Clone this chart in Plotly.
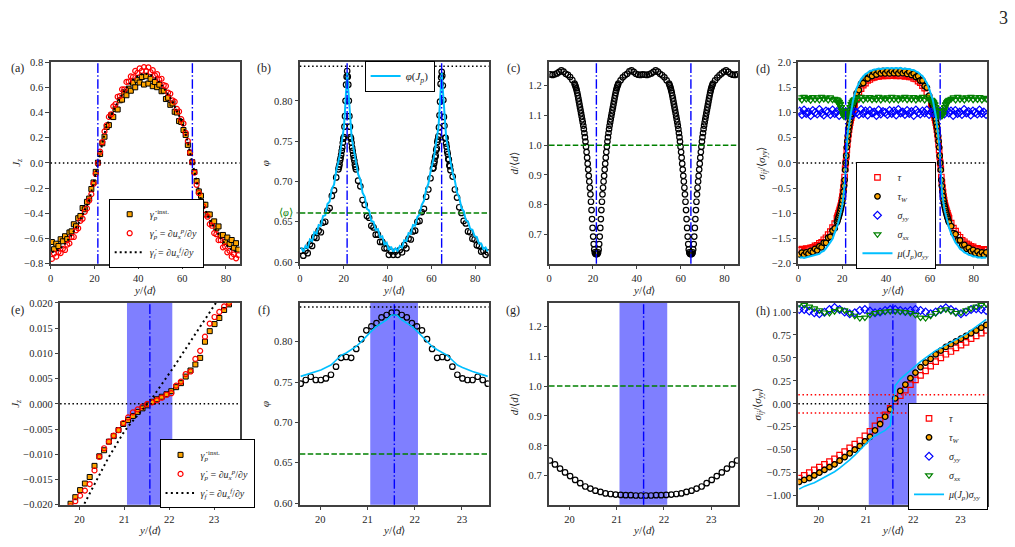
import plotly.graph_objects as go

FONT = "Liberation Serif"
W, H = 1015, 547
AXC = "#404040"
TXT = "#262626"

# ------------------------------------------------------------------ data
# y/<d> positions, coarse (panel a, sigma_yy in panel d)
y_coarse = [0.6, 1.6, 2.6, 3.6, 4.6, 5.6, 6.6, 7.6, 8.6, 9.6, 10.6, 11.6, 12.6, 13.6, 14.6, 15.6, 16.6, 17.6, 18.6, 19.6, 20.6, 21.6,
            22.6, 23.6, 24.6, 25.6, 26.6, 27.6, 28.6, 29.6, 30.6, 31.6, 32.6, 33.6, 34.6, 35.6, 36.6, 37.6, 38.6, 39.6, 40.6, 41.6, 42.6,
            43.6, 44.6, 45.6, 46.6, 47.6, 48.6, 49.6, 50.6, 51.6, 52.6, 53.6, 54.6, 55.6, 56.6, 57.6, 58.6, 59.6, 60.6, 61.6, 62.6, 63.6, 64.6,
            65.6, 66.6, 67.6, 68.6, 69.6, 70.6, 71.6, 72.6, 73.6, 74.6, 75.6, 76.6, 77.6, 78.6, 79.6, 80.6, 81.6, 82.6, 83.6, 84.6, 85.6]

# y/<d> positions, refined around the two shear bands (panels b, d)
y_fine = [0.6, 1.6, 2.6, 3.6, 4.6, 5.6, 6.6, 7.6, 8.6, 9.6, 10.6, 11.6, 12.6, 13.6, 14.6, 15.6, 16.6,
          17.6, 17.85, 18.1, 18.35, 18.6, 18.85, 19.1, 19.35, 19.6, 19.85, 20.1, 20.35, 20.6, 20.85, 21.1, 21.35, 21.6,
          21.85, 22.1, 22.35, 22.6, 22.85, 23.1, 23.35, 23.6, 23.85, 24.1, 24.35, 24.6, 24.85, 25.1, 25.35, 25.6,
          26.6, 27.6, 28.6, 29.6, 30.6, 31.6, 32.6, 33.6, 34.6, 35.6, 36.6, 37.6, 38.6, 39.6, 40.6, 41.6, 42.6,
          43.6, 44.6, 45.6, 46.6, 47.6, 48.6, 49.6, 50.6, 51.6, 52.6, 53.6, 54.6, 55.6, 56.6, 57.6, 58.6, 59.6,
          60.7, 60.95, 61.2, 61.45, 61.7, 61.95, 62.2, 62.45, 62.7, 62.95, 63.2, 63.45, 63.7, 63.95, 64.2, 64.45, 64.7,
          64.95, 65.2, 65.45, 65.7, 65.95, 66.2, 66.45, 66.7, 66.95, 67.2, 67.45, 67.7, 67.95, 68.2, 68.45, 68.7,
          69.7, 70.7, 71.7, 72.7, 73.7, 74.7, 75.7, 76.7, 77.7, 78.7, 79.7, 80.7, 81.7, 82.7, 83.7, 84.7, 85.7]

# y/<d> positions for panel c (refined over the whole size gradient)
y_fine_c = [0.6, 1.6, 2.6, 3.6, 4.6, 5.6, 6.6, 7.6, 8.6, 9.6, 10.6,
            11.6, 11.85, 12.1, 12.35, 12.6, 12.85, 13.1, 13.35, 13.6, 13.85, 14.1, 14.35, 14.6, 14.85, 15.1, 15.35,
            15.6, 15.85, 16.1, 16.35, 16.6, 16.85, 17.1, 17.35, 17.6, 17.85, 18.1, 18.35, 18.6, 18.85, 19.1, 19.35,
            19.6, 19.85, 20.1, 20.35, 20.6, 20.85, 21.1, 21.35, 21.6,
            21.85, 22.1, 22.35, 22.6, 22.85, 23.1, 23.35, 23.6, 23.85, 24.1, 24.35, 24.6, 24.85, 25.1, 25.35, 25.6,
            25.85, 26.1, 26.35, 26.6, 26.85, 27.1, 27.35, 27.6, 27.85, 28.1, 28.35, 28.6, 28.85, 29.1, 29.35, 29.6,
            29.85, 30.1, 30.35, 30.6, 30.85, 31.1, 31.35, 31.6,
            32.6, 33.6, 34.6, 35.6, 36.6, 37.6, 38.6, 39.6, 40.6, 41.6, 42.6,
            43.6, 44.6, 45.6, 46.6, 47.6, 48.6, 49.6, 50.6, 51.6, 52.6, 53.6,
            54.7, 54.95, 55.2, 55.45, 55.7, 55.95, 56.2, 56.45, 56.7, 56.95, 57.2, 57.45, 57.7, 57.95, 58.2, 58.45,
            58.7, 58.95, 59.2, 59.45, 59.7, 59.95, 60.2, 60.45, 60.7, 60.95, 61.2, 61.45, 61.7, 61.95, 62.2, 62.45,
            62.7, 62.95, 63.2, 63.45, 63.7, 63.95, 64.2, 64.45, 64.7,
            64.95, 65.2, 65.45, 65.7, 65.95, 66.2, 66.45, 66.7, 66.95, 67.2, 67.45, 67.7, 67.95, 68.2, 68.45, 68.7,
            68.95, 69.2, 69.45, 69.7, 69.95, 70.2, 70.45, 70.7, 70.95, 71.2, 71.45, 71.7, 71.95, 72.2, 72.45, 72.7,
            72.95, 73.2, 73.45, 73.7, 73.95, 74.2, 74.45, 74.7,
            75.7, 76.7, 77.7, 78.7, 79.7, 80.7, 81.7, 82.7, 83.7, 84.7, 85.7]

# y/<d> positions in the zoomed bottom row
y_zoom = [19.588, 19.695, 19.802, 19.908, 20.015, 20.122, 20.229, 20.336, 20.443, 20.550, 20.657, 20.764, 20.871,
          20.978, 21.085, 21.192, 21.299, 21.406, 21.514, 21.620, 21.727, 21.834, 21.941, 22.048, 22.155, 22.262,
          22.369, 22.476, 22.584, 22.691, 22.798, 22.904, 23.011, 23.118, 23.225, 23.333, 23.440, 23.546]

# (a) shear rates J_z
Jz_inst_a = [-0.628, -0.685, -0.641, -0.660, -0.606, -0.622, -0.582, -0.605, -0.552, -0.543, -0.487, -0.503, -0.439, -0.421,
             -0.358, -0.368, -0.309, -0.283, -0.207, -0.155, -0.071, 0.002,
             0.071, 0.156, 0.208, 0.285, 0.300, 0.377, 0.364, 0.427, 0.424, 0.497, 0.502, 0.561, 0.537, 0.590, 0.573, 0.637,
             0.600, 0.657, 0.638, 0.682, 0.622,
             0.688, 0.630, 0.668, 0.609, 0.642, 0.601, 0.621, 0.569, 0.573, 0.507, 0.517, 0.461, 0.472, 0.406, 0.400, 0.332,
             0.325, 0.261, 0.222, 0.143, 0.080, 0.006,
             -0.072, -0.144, -0.226, -0.261, -0.333, -0.332, -0.409, -0.409, -0.478, -0.464, -0.520, -0.504, -0.576, -0.572,
             -0.627, -0.592, -0.645, -0.612, -0.674, -0.637, -0.688]
Jz_p_a = [-0.762, -0.719, -0.744, -0.708, -0.716, -0.682, -0.691, -0.648, -0.639, -0.589, -0.588, -0.535, -0.519, -0.460,
          -0.443, -0.388, -0.361, -0.299, -0.248, -0.165, -0.088, -0.003,
          0.089, 0.166, 0.250, 0.299, 0.365, 0.386, 0.449, 0.466, 0.525, 0.531, 0.584, 0.583, 0.643, 0.646, 0.687, 0.682,
          0.730, 0.714, 0.750, 0.731, 0.760,
          0.730, 0.759, 0.720, 0.736, 0.694, 0.704, 0.661, 0.668, 0.617, 0.611, 0.558, 0.549, 0.497, 0.486, 0.429, 0.408,
          0.347, 0.313, 0.239, 0.174, 0.083, 0.006,
          -0.077, -0.174, -0.239, -0.315, -0.345, -0.410, -0.427, -0.486, -0.499, -0.557, -0.566, -0.613, -0.613, -0.670,
          -0.663, -0.710, -0.698, -0.744, -0.726, -0.757, -0.732]
Jz_f_a = [-0.707, -0.704, -0.699, -0.690, -0.677, -0.662, -0.641, -0.621, -0.596, -0.571, -0.545, -0.515, -0.485, -0.449,
          -0.414, -0.379, -0.338, -0.293, -0.232, -0.162, -0.081, 0.0,
          0.081, 0.162, 0.232, 0.293, 0.338, 0.379, 0.414, 0.449, 0.485, 0.515, 0.545, 0.571, 0.596, 0.621, 0.641, 0.662,
          0.677, 0.690, 0.699, 0.704, 0.707,
          0.707, 0.704, 0.699, 0.690, 0.677, 0.662, 0.641, 0.621, 0.596, 0.571, 0.545, 0.515, 0.485, 0.449, 0.414, 0.379,
          0.338, 0.293, 0.232, 0.162, 0.081, 0.008,
          -0.073, -0.162, -0.232, -0.293, -0.338, -0.379, -0.414, -0.449, -0.485, -0.515, -0.545, -0.571, -0.596, -0.621,
          -0.641, -0.662, -0.677, -0.690, -0.699, -0.704, -0.707]

# (b) packing fraction
phi_b = [0.614, 0.608, 0.614, 0.611, 0.622, 0.620, 0.631, 0.630, 0.639, 0.637, 0.649, 0.650, 0.664, 0.667, 0.682, 0.689, 0.705,
         0.715, 0.718, 0.721, 0.726, 0.729, 0.733, 0.738, 0.742, 0.748, 0.753, 0.755, 0.768, 0.781, 0.800, 0.820, 0.830, 0.837,
         0.830, 0.820, 0.800, 0.781, 0.768, 0.755, 0.753, 0.748, 0.742, 0.738, 0.733, 0.729, 0.726, 0.721, 0.718, 0.715,
         0.701, 0.694, 0.677, 0.671, 0.657, 0.655, 0.645, 0.643, 0.634, 0.634, 0.625, 0.625, 0.617, 0.617, 0.609, 0.613, 0.609,
         0.613, 0.609, 0.615, 0.612, 0.621, 0.617, 0.629, 0.628, 0.638, 0.639, 0.650, 0.651, 0.662, 0.666, 0.681, 0.690, 0.704,
         0.716, 0.717, 0.722, 0.725, 0.730, 0.732, 0.739, 0.741, 0.749, 0.752, 0.756, 0.767, 0.782, 0.799, 0.821, 0.829, 0.836,
         0.831, 0.819, 0.801, 0.780, 0.769, 0.754, 0.754, 0.747, 0.743, 0.737, 0.734, 0.728, 0.727, 0.720, 0.719, 0.714,
         0.706, 0.690, 0.680, 0.668, 0.661, 0.651, 0.648, 0.638, 0.637, 0.629, 0.628, 0.621, 0.620, 0.613, 0.614, 0.609, 0.612]
phi_Jp_b = [0.618, 0.613, 0.620, 0.617, 0.628, 0.626, 0.637, 0.635, 0.646, 0.645, 0.657, 0.658, 0.672, 0.675, 0.691, 0.696, 0.713,
            0.723, 0.727, 0.731, 0.735, 0.739, 0.743, 0.747, 0.751, 0.756, 0.761, 0.767, 0.777, 0.787, 0.798, 0.813, 0.824, 0.835,
            0.824, 0.813, 0.798, 0.787, 0.777, 0.767, 0.761, 0.756, 0.751, 0.747, 0.743, 0.739, 0.735, 0.731, 0.727, 0.723,
            0.709, 0.702, 0.686, 0.681, 0.666, 0.664, 0.651, 0.650, 0.640, 0.641, 0.631, 0.632, 0.622, 0.624, 0.615, 0.619, 0.613,
            0.617, 0.614, 0.620, 0.618, 0.627, 0.626, 0.636, 0.635, 0.646, 0.645, 0.656, 0.659, 0.671, 0.676, 0.690, 0.697, 0.712,
            0.723, 0.727, 0.731, 0.735, 0.739, 0.743, 0.747, 0.751, 0.756, 0.761, 0.767, 0.777, 0.787, 0.798, 0.813, 0.824, 0.835,
            0.824, 0.813, 0.798, 0.787, 0.777, 0.767, 0.761, 0.756, 0.751, 0.747, 0.743, 0.739, 0.735, 0.731, 0.727, 0.723,
            0.710, 0.701, 0.686, 0.680, 0.667, 0.663, 0.652, 0.650, 0.641, 0.640, 0.632, 0.631, 0.623, 0.623, 0.616, 0.618, 0.613]

# (c) local grain size d/<d>  (on y_fine_c)
dd_c = [1.238, 1.236, 1.238, 1.241, 1.246, 1.251, 1.247, 1.240, 1.236, 1.229, 1.219,
        1.207, 1.202, 1.197, 1.191, 1.184, 1.176, 1.167, 1.157, 1.147, 1.137, 1.127, 1.117, 1.107, 1.097, 1.087, 1.077,
        1.066, 1.054, 1.041, 1.027, 1.012, 0.995, 0.977, 0.958, 0.938, 0.918, 0.897, 0.878, 0.857, 0.835, 0.810, 0.782,
        0.752, 0.722, 0.693, 0.668, 0.650, 0.640, 0.636, 0.635, 0.634,
        0.635, 0.636, 0.640, 0.650, 0.668, 0.693, 0.722, 0.752, 0.782, 0.810, 0.835, 0.857, 0.878, 0.897, 0.918, 0.938,
        0.958, 0.977, 0.995, 1.012, 1.027, 1.041, 1.054, 1.066, 1.077, 1.087, 1.097, 1.107, 1.117, 1.127, 1.137, 1.147,
        1.157, 1.167, 1.176, 1.184, 1.191, 1.197, 1.202, 1.207,
        1.218, 1.228, 1.235, 1.240, 1.248, 1.251, 1.246, 1.240, 1.237, 1.236, 1.238,
        1.237, 1.236, 1.238, 1.241, 1.246, 1.251, 1.247, 1.240, 1.235, 1.228, 1.218,
        1.207, 1.202, 1.197, 1.191, 1.184, 1.176, 1.167, 1.157, 1.147, 1.137, 1.127, 1.117, 1.107, 1.097, 1.087, 1.077,
        1.066, 1.054, 1.041, 1.027, 1.012, 0.995, 0.977, 0.958, 0.938, 0.918, 0.897, 0.878, 0.857, 0.835, 0.810, 0.782,
        0.752, 0.722, 0.693, 0.668, 0.650, 0.640, 0.636, 0.635, 0.634,
        0.635, 0.636, 0.640, 0.650, 0.668, 0.693, 0.722, 0.752, 0.782, 0.810, 0.835, 0.857, 0.878, 0.897, 0.918, 0.938,
        0.958, 0.977, 0.995, 1.012, 1.027, 1.041, 1.054, 1.066, 1.077, 1.087, 1.097, 1.107, 1.117, 1.127, 1.137, 1.147,
        1.157, 1.167, 1.176, 1.184, 1.191, 1.197, 1.202, 1.207,
        1.218, 1.227, 1.235, 1.241, 1.247, 1.251, 1.246, 1.240, 1.237, 1.236, 1.238]

# (d) stresses
tau_d = [-1.730, -1.710, -1.725, -1.700, -1.705, -1.685, -1.675, -1.645, -1.635, -1.595, -1.575, -1.525, -1.485, -1.425, -1.365, -1.285, -1.205,
         -1.10, -1.07, -1.04, -1.00, -0.97, -0.93, -0.89, -0.85, -0.80, -0.74, -0.67, -0.58, -0.49, -0.39, -0.28, -0.12, 0.0,
         0.13, 0.26, 0.37, 0.48, 0.57, 0.66, 0.73, 0.80, 0.85, 0.90, 0.95, 1.00, 1.04, 1.08, 1.12, 1.16,
         1.290, 1.405, 1.475, 1.545, 1.585, 1.635, 1.655, 1.685, 1.695, 1.715, 1.715, 1.725, 1.725, 1.735, 1.725, 1.735, 1.730,
         1.735, 1.725, 1.735, 1.725, 1.735, 1.715, 1.725, 1.705, 1.705, 1.675, 1.665, 1.625, 1.595, 1.535, 1.485, 1.395, 1.295,
         1.16, 1.12, 1.08, 1.04, 1.00, 0.95, 0.90, 0.85, 0.80, 0.73, 0.66, 0.57, 0.48, 0.37, 0.26, 0.13, 0.0,
         -0.12, -0.28, -0.39, -0.49, -0.58, -0.67, -0.74, -0.80, -0.85, -0.89, -0.93, -0.97, -1.00, -1.04, -1.07, -1.10,
         -1.195, -1.295, -1.355, -1.435, -1.475, -1.535, -1.565, -1.605, -1.625, -1.655, -1.665, -1.695, -1.695, -1.715, -1.715, -1.725, -1.715]
tauW_d = [-1.820, -1.780, -1.825, -1.775, -1.800, -1.745, -1.770, -1.705, -1.735, -1.655, -1.675, -1.585, -1.585, -1.485, -1.465, -1.345, -1.300,
          -1.18, -1.15, -1.11, -1.08, -1.04, -1.00, -0.96, -0.91, -0.86, -0.81, -0.74, -0.66, -0.57, -0.46, -0.34, -0.14, 0.0,
          0.14, 0.31, 0.43, 0.54, 0.63, 0.72, 0.79, 0.86, 0.92, 0.97, 1.02, 1.07, 1.11, 1.15, 1.19, 1.23,
          1.385, 1.445, 1.575, 1.585, 1.685, 1.675, 1.755, 1.725, 1.795, 1.755, 1.815, 1.775, 1.825, 1.775, 1.825, 1.775, 1.820,
          1.780, 1.825, 1.775, 1.825, 1.780, 1.820, 1.765, 1.805, 1.745, 1.775, 1.705, 1.725, 1.635, 1.635, 1.525, 1.495, 1.335,
          1.23, 1.19, 1.15, 1.11, 1.07, 1.02, 0.97, 0.92, 0.86, 0.79, 0.72, 0.63, 0.54, 0.43, 0.31, 0.14, 0.0,
          -0.14, -0.34, -0.46, -0.57, -0.66, -0.74, -0.81, -0.86, -0.91, -0.96, -1.00, -1.04, -1.08, -1.11, -1.15, -1.18,
          -1.255, -1.395, -1.415, -1.535, -1.535, -1.635, -1.625, -1.705, -1.685, -1.755, -1.725, -1.795, -1.755, -1.815, -1.775, -1.825, -1.775]
syy_d = [1.03, 0.96, 1.05, 0.98, 1.01, 0.94, 1.04, 1.00, 0.97, 1.06, 0.99, 0.95, 1.03, 1.01, 0.96, 1.05, 0.98, 1.02, 0.94, 1.04, 0.99, 1.01,
         0.97, 1.05, 0.95, 1.02, 1.00, 0.96, 1.06, 0.98, 1.03, 0.95, 1.04, 0.99, 1.01, 0.94, 1.05, 0.97, 1.02, 1.00, 0.96, 1.04, 0.98,
         1.03, 0.95, 1.06, 0.99, 1.01, 0.96, 1.04, 0.98, 1.02, 0.94, 1.05, 1.00, 0.97, 1.03, 0.99, 1.05, 0.96, 1.01, 0.98, 1.04, 0.95, 1.02,
         1.00, 0.97, 1.05, 0.99, 1.03, 0.94, 1.04, 0.98, 1.01, 0.96, 1.06, 0.99, 1.02, 0.95, 1.03, 1.00, 0.97, 1.05, 0.98, 1.01, 0.96]
sxx_d = [1.30, 1.25, 1.31, 1.27, 1.29, 1.245, 1.305, 1.26, 1.30, 1.25, 1.31, 1.27, 1.295, 1.25, 1.30, 1.255, 1.27,
         1.26, 1.21, 1.24, 1.19, 1.21, 1.15, 1.17, 1.10, 1.11, 1.04, 1.04, 0.96, 0.97, 0.92, 0.98, 0.96, 1.01,
         0.96, 0.98, 0.92, 0.97, 0.96, 1.04, 1.04, 1.11, 1.10, 1.17, 1.15, 1.21, 1.19, 1.24, 1.21, 1.26,
         1.29, 1.26, 1.31, 1.25, 1.30, 1.27, 1.305, 1.255, 1.29, 1.26, 1.31, 1.25, 1.295, 1.27, 1.30, 1.25, 1.31,
         1.26, 1.30, 1.25, 1.295, 1.27, 1.31, 1.255, 1.30, 1.26, 1.305, 1.25, 1.29, 1.27, 1.31, 1.25, 1.30, 1.26,
         1.25, 1.22, 1.23, 1.20, 1.20, 1.16, 1.16, 1.11, 1.10, 1.05, 1.03, 0.97, 0.96, 0.93, 0.97, 0.97, 1.00,
         0.97, 0.97, 0.93, 0.96, 0.97, 1.03, 1.05, 1.10, 1.11, 1.16, 1.16, 1.20, 1.20, 1.23, 1.22, 1.25,
         1.27, 1.30, 1.25, 1.31, 1.26, 1.295, 1.25, 1.30, 1.27, 1.31, 1.255, 1.30, 1.26, 1.305, 1.25, 1.29, 1.27]
muJ_d = [-1.885, -1.875, -1.885, -1.875, -1.865, -1.860, -1.845, -1.840, -1.815, -1.805, -1.765, -1.745, -1.695, -1.645, -1.575, -1.505, -1.395,
         -1.28, -1.24, -1.20, -1.16, -1.12, -1.08, -1.03, -0.98, -0.93, -0.88, -0.82, -0.75, -0.66, -0.55, -0.41, -0.33, 0.0,
         0.30, 0.40, 0.51, 0.61, 0.69, 0.76, 0.84, 0.93, 1.00, 1.06, 1.12, 1.17, 1.22, 1.27, 1.31, 1.35,
         1.485, 1.575, 1.665, 1.715, 1.765, 1.785, 1.825, 1.835, 1.855, 1.855, 1.875, 1.865, 1.875, 1.875, 1.885, 1.875, 1.885,
         1.875, 1.885, 1.875, 1.885, 1.865, 1.875, 1.865, 1.865, 1.845, 1.845, 1.815, 1.795, 1.755, 1.725, 1.655, 1.585, 1.475,
         1.35, 1.31, 1.27, 1.22, 1.17, 1.12, 1.06, 1.00, 0.93, 0.84, 0.76, 0.69, 0.61, 0.51, 0.40, 0.30, 0.0,
         -0.33, -0.41, -0.55, -0.66, -0.75, -0.82, -0.88, -0.93, -0.98, -1.03, -1.08, -1.12, -1.16, -1.20, -1.24, -1.28,
         -1.405, -1.495, -1.585, -1.635, -1.705, -1.735, -1.775, -1.795, -1.825, -1.835, -1.855, -1.855, -1.875, -1.875, -1.885, -1.875, -1.885]

# (e) zoom of (a)
Jz_inst_e = [-0.0225, -0.0212, -0.0198, -0.0185, -0.0171, -0.0158, -0.0145, -0.0123, -0.0104, -0.0092, -0.0075, -0.0064, -0.0052,
             -0.0040, -0.0032, -0.0024, -0.0016, -0.0009, -0.0003, 0.0004, 0.0009, 0.0014, 0.0019, 0.0025, 0.0033, 0.0041,
             0.0054, 0.0066, 0.0078, 0.0091, 0.0123, 0.0144, 0.0158, 0.0170, 0.0186, 0.0197, 0.0210, 0.0222]
Jz_p_e = [-0.0225, -0.0213, -0.0203, -0.0193, -0.0182, -0.0172, -0.0159, -0.0132, -0.0105, -0.0088, -0.0075, -0.0063, -0.0052,
          -0.0038, -0.0027, -0.0017, -0.0011, -0.0005, 0.0000, 0.0003, 0.0007, 0.0012, 0.0018, 0.0021, 0.0036, 0.0044,
          0.0059, 0.0064, 0.0089, 0.0105, 0.0133, 0.0159, 0.0172, 0.0182, 0.0193, 0.0200, 0.0210, 0.0220]
Jz_f_e = [-0.0292, -0.0272, -0.0253, -0.0234, -0.0215, -0.0196, -0.0177, -0.0158, -0.0140, -0.0123, -0.0105, -0.0089, -0.0073,
          -0.0058, -0.0045, -0.0034, -0.0023, -0.0013, -0.0002, 0.0011, 0.0025, 0.0038, 0.0051, 0.0066, 0.0080, 0.0095,
          0.0109, 0.0124, 0.0138, 0.0153, 0.0167, 0.0182, 0.0196, 0.0210, 0.0225, 0.0239, 0.0254, 0.0268]

# (f) zoom of (b)
phi_f = [0.748, 0.7525, 0.7565, 0.7525, 0.7525, 0.7545, 0.759, 0.769, 0.780, 0.781, 0.780, 0.791, 0.803, 0.814, 0.819, 0.823,
         0.830, 0.833, 0.836, 0.836, 0.833, 0.830, 0.823, 0.819, 0.814, 0.803, 0.791, 0.780, 0.781, 0.780, 0.769, 0.759,
         0.7545, 0.7525, 0.7525, 0.7565, 0.7525, 0.748]
phi_Jp_f = [0.757, 0.759, 0.761, 0.763, 0.765, 0.768, 0.771, 0.777, 0.783, 0.786, 0.790, 0.794, 0.800, 0.807, 0.813, 0.819,
            0.823, 0.827, 0.833, 0.833, 0.827, 0.823, 0.819, 0.813, 0.807, 0.800, 0.794, 0.790, 0.786, 0.783, 0.777, 0.771,
            0.768, 0.765, 0.763, 0.761, 0.759, 0.757]

# (g) zoom of (c)
dd_g = [0.751, 0.738, 0.724, 0.711, 0.699, 0.686, 0.675, 0.664, 0.657, 0.650, 0.646, 0.641, 0.639, 0.637, 0.636, 0.635,
        0.635, 0.634, 0.634, 0.634, 0.634, 0.635, 0.635, 0.636, 0.637, 0.639, 0.641, 0.646, 0.650, 0.657, 0.664, 0.675,
        0.686, 0.699, 0.711, 0.724, 0.738, 0.751]

# (h) zoom of (d)
tau_h = [-0.81, -0.78, -0.75, -0.72, -0.69, -0.66, -0.63, -0.60, -0.56, -0.52, -0.48, -0.44, -0.40, -0.35, -0.30, -0.24,
         -0.18, -0.12, -0.05, 0.03, 0.09, 0.15, 0.21, 0.26, 0.31, 0.36, 0.41, 0.46, 0.50, 0.54, 0.57, 0.61, 0.64, 0.67,
         0.71, 0.74, 0.77, 0.80]
tauW_h = [-0.85, -0.83, -0.81, -0.78, -0.75, -0.72, -0.69, -0.66, -0.62, -0.58, -0.54, -0.50, -0.46, -0.41, -0.36, -0.29,
          -0.22, -0.14, -0.06, 0.06, 0.14, 0.21, 0.28, 0.34, 0.40, 0.45, 0.49, 0.54, 0.58, 0.62, 0.65, 0.68, 0.71, 0.74,
          0.77, 0.80, 0.83, 0.86]
syy_h = [1.028, 1.028, 1.011, 0.993, 0.982, 0.998, 1.028, 1.050, 1.028, 1.000, 0.982, 0.993, 1.018, 1.028, 1.011, 0.993,
         1.000, 1.018, 1.028, 1.028, 1.018, 1.007, 1.018, 1.028, 1.018, 1.000, 0.982, 1.000, 1.028, 1.046, 1.028, 1.000,
         0.982, 1.000, 1.028, 1.036, 1.028, 1.018]
sxx_h = [1.089, 1.078, 1.060, 1.040, 1.020, 0.995, 0.990, 1.010, 1.030, 1.020, 0.990, 0.960, 0.935, 0.940, 0.970, 0.990,
         1.000, 1.005, 1.010, 1.010, 1.005, 1.000, 0.990, 0.970, 0.940, 0.935, 0.960, 0.990, 1.020, 1.030, 1.010, 0.990,
         0.995, 1.020, 1.040, 1.060, 1.078, 1.089]
muJ_h = [-0.93, -0.90, -0.88, -0.86, -0.83, -0.80, -0.77, -0.74, -0.70, -0.66, -0.61, -0.56, -0.50, -0.44, -0.39, -0.35,
         -0.32, -0.29, -0.24, 0.20, 0.27, 0.32, 0.36, 0.41, 0.46, 0.50, 0.54, 0.58, 0.61, 0.64, 0.67, 0.70, 0.73, 0.76,
         0.80, 0.84, 0.88, 0.92]

# reference lines / bands
band_centres_top = [21.57, 64.67]
band_centre_zoom = 21.57
band_zoom = [21.06, 22.07]
phi_mean = 0.661
phi_max = 0.843
sigma_tol = [0.1, -0.1]

# ------------------------------------------------------------------ layout helpers
PANELS = {
    1: (47.7, 237.3, 58.3, 264.0), 2: (297.7, 487.3, 58.3, 264.0),
    3: (547.7, 737.3, 58.3, 264.0), 4: (797.7, 987.3, 58.3, 264.0),
    5: (57.3, 237.3, 304.0, 510.0), 6: (297.7, 487.3, 304.0, 510.0),
    7: (547.7, 737.3, 304.0, 510.0), 8: (797.7, 987.3, 304.0, 510.0),
}


def sfx(i):
    return "" if i == 1 else str(i)


def fx(p):
    return p / W


def fy(p):
    return 1 - p / H


ORANGE = "#ffa500"
CYAN = "#00bfff"
DOT = "1.5px,2.6px"
DASH = "5.5px,2.4px"
DASHDOT = "9.6px,2.4px,1.5px,2.4px"

traces = []


def sc(i, x, y, name=None, legend=None, **kw):
    t = dict(type="scatter", x=x, y=y, xaxis="x" + sfx(i), yaxis="y" + sfx(i),
             name=name or "", showlegend=legend is not None, hoverinfo="skip")
    if legend is not None:
        t["legend"] = legend
    t.update(kw)
    traces.append(t)


def m_sq():
    return dict(mode="markers", marker=dict(symbol="square", size=5, color=ORANGE, line=dict(color="black", width=1)))


def m_red_o():
    return dict(mode="markers", marker=dict(symbol="circle-open", size=5, color="red", line=dict(color="red", width=1.2)))


def m_blk_o():
    return dict(mode="markers", marker=dict(symbol="circle-open", size=5.5, color="black", line=dict(color="black", width=1.2)))


def m_red_sq():
    return dict(mode="markers", marker=dict(symbol="square-open", size=5.5, color="red", line=dict(color="red", width=1.2)))


def m_tw():
    return dict(mode="markers", marker=dict(symbol="circle", size=5.5, color=ORANGE, line=dict(color="black", width=1.3)))


def m_dia():
    return dict(mode="markers", marker=dict(symbol="diamond-open", size=6, color="blue", line=dict(color="blue", width=1.2)))


def m_tri():
    return dict(mode="markers", marker=dict(symbol="triangle-down-open", size=6, color="green", line=dict(color="green", width=1.2)))


# ------------------------------------------------------------------ traces
L_INST = "<i>γ̇</i><sub><i>p</i></sub><sup>inst.</sup>"
L_P = "<i>γ̇</i><sub><i>p</i></sub> = ∂<i>u</i><sub><i>x</i></sub><sup><i>p</i></sup>/∂<i>y</i>"
L_F = "<i>γ̇</i><sub><i>f</i></sub> = ∂<i>u</i><sub><i>x</i></sub><sup><i>f</i></sup>/∂<i>y</i>"
L_MU = "<i>μ</i>(<i>J</i><sub><i>p</i></sub>)<i>σ</i><sub><i>yy</i></sub>"

# (a)
sc(1, y_coarse, Jz_inst_a, L_INST, "legend", **m_sq())
sc(1, y_coarse, Jz_p_a, L_P, "legend", **m_red_o())
sc(1, y_coarse, Jz_f_a, L_F, "legend", mode="lines", line=dict(color="black", width=2, dash="2px,3px"))
# (b)
sc(2, y_fine, phi_b, **m_blk_o())
sc(2, y_fine, phi_Jp_b, "<i>φ</i>(<i>J</i><sub><i>p</i></sub>)", "legend2", mode="lines", line=dict(color=CYAN, width=2))
# (c)
sc(3, y_fine_c, dd_c, **m_blk_o())
# (d)
sc(4, y_fine, tau_d, "<i>τ</i>", "legend3", **m_red_sq())
sc(4, y_fine, tauW_d, "<i>τ</i><sub><i>W</i></sub>", "legend3", **m_tw())
sc(4, y_coarse, syy_d, "<i>σ</i><sub><i>yy</i></sub>", "legend3", **m_dia())
sc(4, y_fine, sxx_d, "<i>σ</i><sub><i>xx</i></sub>", "legend3", **m_tri())
sc(4, y_fine, muJ_d, L_MU, "legend3", mode="lines", line=dict(color=CYAN, width=2))
# (e)
sc(5, y_zoom, Jz_inst_e, L_INST, "legend4", **m_sq())
sc(5, y_zoom, Jz_p_e, L_P, "legend4", **m_red_o())
sc(5, y_zoom, Jz_f_e, L_F, "legend4", mode="lines", line=dict(color="black", width=2, dash="2px,3.3px"))
# (f)
sc(6, y_zoom, phi_f, **m_blk_o())
sc(6, y_zoom, phi_Jp_f, mode="lines", line=dict(color=CYAN, width=1.6))
# (g)
sc(7, y_zoom, dd_g, **m_blk_o())
# (h)
sc(8, y_zoom, tau_h, "<i>τ</i>", "legend5", **m_red_sq())
sc(8, y_zoom, tauW_h, "<i>τ</i><sub><i>W</i></sub>", "legend5", **m_tw())
sc(8, y_zoom, syy_h, "<i>σ</i><sub><i>yy</i></sub>", "legend5", **m_dia())
sc(8, y_zoom, sxx_h, "<i>σ</i><sub><i>xx</i></sub>", "legend5", **m_tri())
sc(8, y_zoom, muJ_h, L_MU, "legend5", mode="lines", line=dict(color=CYAN, width=1.6))

# ------------------------------------------------------------------ axes
YAX = {
    1: dict(range=[-0.8, 0.8], tickvals=[-0.8, -0.6, -0.4, -0.2, 0, 0.2, 0.4, 0.6, 0.8], tickformat=".1f"),
    2: dict(range=[0.598, 0.848], tickvals=[0.60, 0.65, 0.70, 0.75, 0.80], tickformat=".2f"),
    3: dict(range=[0.602, 1.279], tickvals=[0.7, 0.8, 0.9, 1.0, 1.1, 1.2], tickformat=".1f"),
    4: dict(range=[-2.0, 2.0], tickvals=[-2, -1.5, -1, -0.5, 0, 0.5, 1, 1.5, 2], tickformat=".1f"),
    5: dict(range=[-0.02, 0.02], tickvals=[-0.02, -0.015, -0.01, -0.005, 0, 0.005, 0.01, 0.015, 0.02], tickformat=".3f"),
    6: dict(range=[0.598, 0.848], tickvals=[0.60, 0.65, 0.70, 0.75, 0.80], tickformat=".2f"),
    7: dict(range=[0.603, 1.278], tickvals=[0.7, 0.8, 0.9, 1.0, 1.1, 1.2], tickformat=".1f"),
    8: dict(range=[-1.1, 1.1], tickvals=[-1, -0.75, -0.5, -0.25, 0, 0.25, 0.5, 0.75, 1], tickformat=".2f"),
}

layout = dict(width=W, height=H, margin=dict(l=0, r=0, t=0, b=0), paper_bgcolor="white", plot_bgcolor="white",
              font=dict(family=FONT, size=10, color=TXT), showlegend=True)

common = dict(showline=True, mirror=True, linecolor=AXC, linewidth=1.5, ticks="outside", ticklen=3.5, tickwidth=0.9,
              tickcolor=AXC, showgrid=False, zeroline=False, tickfont=dict(family=FONT, size=10.5, color=TXT), fixedrange=True)

for i, (x0, x1, y0, y1) in PANELS.items():
    xa = dict(common, domain=[fx(x0), fx(x1)], anchor="y" + sfx(i))
    if i <= 4:
        xa.update(range=[0, 86.2], tickvals=[0, 20, 40, 60, 80])
    else:
        xa.update(range=[19.57, 23.57], tickvals=[20, 21, 22, 23])
    ya = dict(common, domain=[fy(y1), fy(y0)], anchor="x" + sfx(i))
    ya.update(YAX[i])
    layout["xaxis" + sfx(i)] = xa
    layout["yaxis" + sfx(i)] = ya

# ------------------------------------------------------------------ shapes
shapes = []


def vline(i, x, color="blue", dash=DASHDOT, width=1.4):
    shapes.append(dict(type="line", xref="x" + sfx(i), yref="y" + sfx(i) + " domain", x0=x, x1=x, y0=0, y1=1,
                       line=dict(color=color, dash=dash, width=width)))


def hline(i, y, color="black", dash=DOT, width=1.5):
    shapes.append(dict(type="line", xref="x" + sfx(i) + " domain", yref="y" + sfx(i), x0=0, x1=1, y0=y, y1=y,
                       line=dict(color=color, dash=dash, width=width)))


for i in (1, 2, 3, 4):
    for c in band_centres_top:
        vline(i, c)
for i in (5, 6, 7, 8):
    shapes.append(dict(type="rect", xref="x" + sfx(i), yref="y" + sfx(i) + " domain", x0=band_zoom[0], x1=band_zoom[1],
                       y0=0, y1=1, fillcolor="rgba(0,0,255,0.5)", line=dict(width=0), layer="below"))
    vline(i, band_centre_zoom)

hline(1, 0)
hline(2, phi_max)
hline(2, phi_mean, color="green", dash=DASH)
hline(3, 1.0, color="green", dash=DASH)
hline(4, 0)
hline(5, 0)
hline(6, phi_max)
hline(6, phi_mean, color="green", dash=DASH)
hline(7, 1.0, color="green", dash=DASH)
hline(8, 0)
for v in sigma_tol:
    hline(8, v, color="red", dash=DOT)
# extra tick at <phi> in (b)
shapes.append(dict(type="line", xref="paper", yref="y2", x0=fx(294.2), x1=fx(297.7), y0=phi_mean, y1=phi_mean,
                   line=dict(color=AXC, width=0.9)))
layout["shapes"] = shapes

# ------------------------------------------------------------------ annotations
ann = []


def text(x, y, s, size=10, angle=0, color=TXT, xanchor="center", yanchor="middle"):
    ann.append(dict(x=x, y=y, xref="paper", yref="paper", text=s, showarrow=False, textangle=angle,
                    font=dict(family=FONT, size=size, color=color), xanchor=xanchor, yanchor=yanchor))


labels = ["(a)", "(b)", "(c)", "(d)", "(e)", "(f)", "(g)", "(h)"]
lab_pos = [(15, 64), (262, 64), (512, 64), (762, 65), (15, 311), (262, 311), (512, 311), (762, 312)]
for s, (px, py) in zip(labels, lab_pos):
    text(fx(px), fy(py), s, size=12)

XT = "<i>y</i>/⟨<i>d</i>⟩"
for i, (x0, x1, y0, y1) in PANELS.items():
    text(fx((x0 + x1) / 2), fy(291 if i <= 4 else 536), XT, size=11)

YT = {1: "<i>J<sub>z</sub></i>", 2: "<i>φ</i>", 3: "<i>d</i>/⟨<i>d</i>⟩",
      4: "<i>σ<sub>ij</sub></i>/⟨<i>σ<sub>yy</sub></i>⟩",
      5: "<i>J<sub>z</sub></i>", 6: "<i>φ</i>", 7: "<i>d</i>/⟨<i>d</i>⟩",
      8: "<i>σ<sub>ij</sub></i>/⟨<i>σ<sub>yy</sub></i>⟩"}
YT_X = {1: 14, 2: 263, 3: 512, 4: 761, 5: 13, 6: 263, 7: 512, 8: 757}
for i, (x0, x1, y0, y1) in PANELS.items():
    text(fx(YT_X[i]), fy((y0 + y1) / 2), YT[i], size=11, angle=-90)

ann.append(dict(x=fx(292.5), y=phi_mean, xref="paper", yref="y2", text="⟨<i>φ</i>⟩", showarrow=False,
                xanchor="right", yanchor="middle", font=dict(family=FONT, size=10.5, color="green")))
text(fx(1003), fy(13), "3", size=18)
layout["annotations"] = ann


# ------------------------------------------------------------------ legends
def leg(xp, yp, size=10):
    return dict(x=fx(xp), y=fy(yp), xanchor="left", yanchor="top", bgcolor="white", bordercolor="black",
                borderwidth=1, font=dict(family=FONT, size=size, color=TXT), tracegroupgap=0, itemwidth=30)


layout["legend"] = leg(106, 197.7, 10)
layout["legend2"] = leg(362.7, 56.7, 11)
layout["legend3"] = leg(856, 160, 10)
layout["legend4"] = leg(157, 443.3, 10)
layout["legend5"] = leg(907.7, 406, 10)

fig = go.Figure(data=traces, layout=layout)
fig.write_html("out.html")
